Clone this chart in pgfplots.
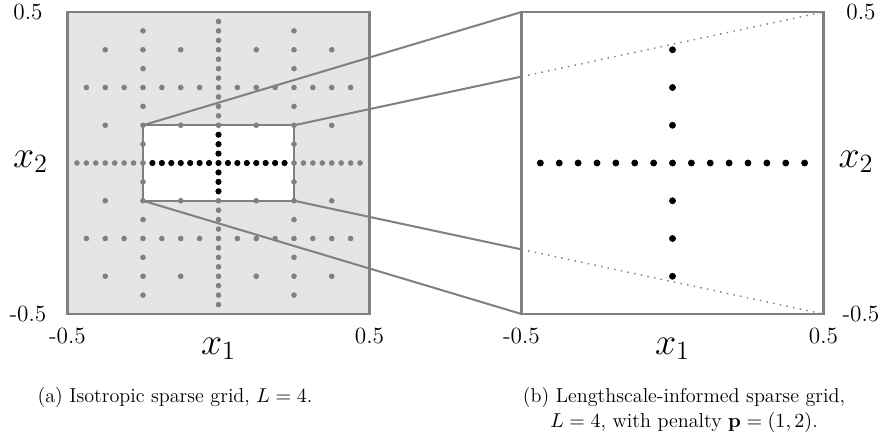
\documentclass[border=0pt]{standalone}
\usepackage{pgfplots}
\pgfplotsset{compat=1.18}
\usepackage{pgfplotstable}

\definecolor{bggray}{HTML}{E5E5E5}
\definecolor{gridgray}{HTML}{808080}
\newlength\px
\setlength\px{0.5464pt}

% Isotropic sparse grid, level sum <= 6 (nested dyadic points in [-0.5,0.5])
\pgfplotstableread[row sep=\\]{
x y\\
0 -0.46875\\ 0 -0.4375\\ 0 -0.40625\\ 0 -0.375\\ 0 -0.34375\\ 0 -0.3125\\ 0 -0.28125\\ 0 -0.25\\
0 -0.21875\\ 0 -0.1875\\ 0 -0.15625\\ 0 -0.125\\ 0 -0.09375\\ 0 -0.0625\\ 0 -0.03125\\ 0 0\\
0 0.03125\\ 0 0.0625\\ 0 0.09375\\ 0 0.125\\ 0 0.15625\\ 0 0.1875\\ 0 0.21875\\ 0 0.25\\
0 0.28125\\ 0 0.3125\\ 0 0.34375\\ 0 0.375\\ 0 0.40625\\ 0 0.4375\\ 0 0.46875\\
-0.25 -0.4375\\ -0.25 -0.375\\ -0.25 -0.3125\\ -0.25 -0.25\\ -0.25 -0.1875\\ -0.25 -0.125\\ -0.25 -0.0625\\ -0.25 0\\
-0.25 0.0625\\ -0.25 0.125\\ -0.25 0.1875\\ -0.25 0.25\\ -0.25 0.3125\\ -0.25 0.375\\ -0.25 0.4375\\
0.25 -0.4375\\ 0.25 -0.375\\ 0.25 -0.3125\\ 0.25 -0.25\\ 0.25 -0.1875\\ 0.25 -0.125\\ 0.25 -0.0625\\ 0.25 0\\
0.25 0.0625\\ 0.25 0.125\\ 0.25 0.1875\\ 0.25 0.25\\ 0.25 0.3125\\ 0.25 0.375\\ 0.25 0.4375\\
-0.375 -0.375\\ -0.375 -0.25\\ -0.375 -0.125\\ -0.375 0\\ -0.375 0.125\\ -0.375 0.25\\ -0.375 0.375\\
-0.125 -0.375\\ -0.125 -0.25\\ -0.125 -0.125\\ -0.125 0\\ -0.125 0.125\\ -0.125 0.25\\ -0.125 0.375\\
0.125 -0.375\\ 0.125 -0.25\\ 0.125 -0.125\\ 0.125 0\\ 0.125 0.125\\ 0.125 0.25\\ 0.125 0.375\\
0.375 -0.375\\ 0.375 -0.25\\ 0.375 -0.125\\ 0.375 0\\ 0.375 0.125\\ 0.375 0.25\\ 0.375 0.375\\
-0.4375 -0.25\\ -0.4375 0\\ -0.4375 0.25\\ -0.3125 -0.25\\ -0.3125 0\\ -0.3125 0.25\\
-0.1875 -0.25\\ -0.1875 0\\ -0.1875 0.25\\ -0.0625 -0.25\\ -0.0625 0\\ -0.0625 0.25\\
0.0625 -0.25\\ 0.0625 0\\ 0.0625 0.25\\ 0.1875 -0.25\\ 0.1875 0\\ 0.1875 0.25\\
0.3125 -0.25\\ 0.3125 0\\ 0.3125 0.25\\ 0.4375 -0.25\\ 0.4375 0\\ 0.4375 0.25\\
-0.46875 0\\ -0.40625 0\\ -0.34375 0\\ -0.28125 0\\ -0.21875 0\\ -0.15625 0\\ -0.09375 0\\ -0.03125 0\\
0.03125 0\\ 0.09375 0\\ 0.15625 0\\ 0.21875 0\\ 0.28125 0\\ 0.34375 0\\ 0.40625 0\\ 0.46875 0\\
}\isogrid

% Points strictly inside the zoom window [-1/4,1/4] x [-1/8,1/8]
\pgfplotstableread[row sep=\\]{
x y\\
-0.21875 0\\ -0.1875 0\\ -0.15625 0\\ -0.125 0\\ -0.09375 0\\ -0.0625 0\\ -0.03125 0\\ 0 0\\
0.03125 0\\ 0.0625 0\\ 0.09375 0\\ 0.125 0\\ 0.15625 0\\ 0.1875 0\\ 0.21875 0\\
0 -0.09375\\ 0 -0.0625\\ 0 -0.03125\\ 0 0.03125\\ 0 0.0625\\ 0 0.09375\\
}\isoinner

% Lengthscale-informed sparse grid, penalty p = (1,2)
\pgfplotstableread[row sep=\\]{
x y\\
-0.4375 0\\ -0.375 0\\ -0.3125 0\\ -0.25 0\\ -0.1875 0\\ -0.125 0\\ -0.0625 0\\ 0 0\\
0.0625 0\\ 0.125 0\\ 0.1875 0\\ 0.25 0\\ 0.3125 0\\ 0.375 0\\ 0.4375 0\\
0 -0.375\\ 0 -0.25\\ 0 -0.125\\ 0 0.125\\ 0 0.25\\ 0 0.375\\
}\lsgrid

\pgfplotsset{
  gridpanel/.style={
    scale only axis, width=302\px, height=302\px,
    xmin=-0.5, xmax=0.5, ymin=-0.5, ymax=0.5,
    xtick={-0.5,0.5}, ytick={-0.5,0.5},
    xticklabels={-0.5,0.5}, yticklabels={-0.5,0.5},
    major tick length=0pt, tick style={draw=none},
    axis line style={draw=gridgray, line width=1.3pt},
    ticklabel style={font=\fontsize{12.7}{15}\selectfont},
    xticklabel style={anchor=center, yshift=-22\px},
    xlabel={$x_1$},
    every axis x label/.style={at={(axis description cs:0.5,0)}, anchor=base,
      yshift=-40\px, font=\huge},
    ylabel={$x_2$},
  }
}

\begin{document}
\begin{tikzpicture}
% (a) isotropic grid with the zoom window
\begin{axis}[gridpanel, at={(67.5\px,130\px)}, anchor=south west,
  axis background/.style={fill=bggray},
  yticklabel style={anchor=center, xshift=-39.5\px},
  every axis y label/.style={at={(axis description cs:0,0.5)}, anchor=base,
    xshift=-37\px, yshift=-4\px, font=\huge}]
  \draw[gridgray, line width=1.1pt, fill=white]
    (axis cs:-0.25,-0.125) rectangle (axis cs:0.25,0.125);
  \addplot[only marks, mark=*, mark size=1.3pt, color=gridgray,
    mark options={draw=none, fill=gridgray}] table {\isogrid};
  \addplot[only marks, mark=*, mark size=1.45pt, color=black,
    mark options={draw=none, fill=black}] table {\isoinner};
  \coordinate (ztl) at (axis cs:-0.25,0.125);
  \coordinate (ztr) at (axis cs:0.25,0.125);
  \coordinate (zbl) at (axis cs:-0.25,-0.125);
  \coordinate (zbr) at (axis cs:0.25,-0.125);
\end{axis}

% (b) lengthscale-informed grid
\begin{axis}[gridpanel, at={(521.5\px,130\px)}, anchor=south west,
  yticklabel pos=right,
  yticklabel style={anchor=center, xshift=37.5\px},
  every axis y label/.style={at={(axis description cs:1,0.5)}, anchor=base,
    xshift=32.5\px, yshift=-4\px, font=\huge}]
  \addplot[only marks, mark=*, mark size=1.65pt, color=black,
    mark options={draw=none, fill=black}] table {\lsgrid};
  \coordinate (wtl) at (rel axis cs:0,1);
  \coordinate (wtr) at (rel axis cs:1,1);
  \coordinate (wbl) at (rel axis cs:0,0);
  \coordinate (wbr) at (rel axis cs:1,0);
\end{axis}

% zoom cone
\coordinate (ptop) at (intersection of ztr--wtr and wtl--wbl);
\coordinate (pbot) at (intersection of zbr--wbr and wtl--wbl);
\draw[gridgray, line width=1.1pt] (ztl) -- (wtl);
\draw[gridgray, line width=1.1pt] (zbl) -- (wbl);
\draw[gridgray, line width=1.1pt] (ztr) -- (ptop);
\draw[gridgray, line width=1.1pt] (zbr) -- (pbot);
\draw[gridgray, line width=0.8pt, dash pattern=on 0.8pt off 2.9pt] (ptop) -- (wtr);
\draw[gridgray, line width=0.8pt, dash pattern=on 0.8pt off 2.9pt] (pbot) -- (wbr);

% captions
\begin{scope}[every node/.style={anchor=base, inner sep=0pt, font=\fontsize{11}{13.6}\selectfont}]
\node at (175\px,42\px) {(a) Isotropic sparse grid, $L=4$.};
\node at (684\px,42\px) {(b) Lengthscale-informed sparse grid,};
\node at (684\px,17\px) {$L=4$, with penalty $\mathbf{p}=(1,2)$.};
\end{scope}

\pgfresetboundingbox
\path[use as bounding box] (0,0) rectangle (885\px,444\px);
\end{tikzpicture}
\end{document}
